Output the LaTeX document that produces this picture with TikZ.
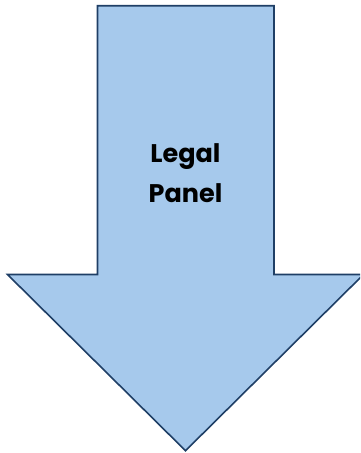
\documentclass[tikz,border=0pt]{standalone}
\usepackage{fontspec}
\setmainfont{Poppins}
\definecolor{arrowfill}{HTML}{A6C9EC}
\definecolor{arrowline}{HTML}{1F3F66}
\tikzset{arrowshape/.style={fill=arrowfill,draw=arrowline,line width=1.6pt,line join=miter},
  lbl/.style={font=\fontsize{25.5}{40}\selectfont\bfseries,align=center,text=black,inner sep=0pt}}
\begin{document}
\begin{tikzpicture}[x=1pt,y=-1pt]
\useasboundingbox (0,0) rectangle (360,453);
\clip (0,0) rectangle (360,453);
\draw[arrowshape] (97.5,5.7) -- (274,5.7) -- (274,274.5) -- (363.5,274.5) -- (185.5,450.7) -- (7.5,274.5) -- (97.5,274.5) -- cycle;
\node[lbl,anchor=base] (t1) at (185.5,162) {Legal};
\node[lbl,anchor=base] (t2) at (185.5,202) {Panel};
\end{tikzpicture}
\end{document}
